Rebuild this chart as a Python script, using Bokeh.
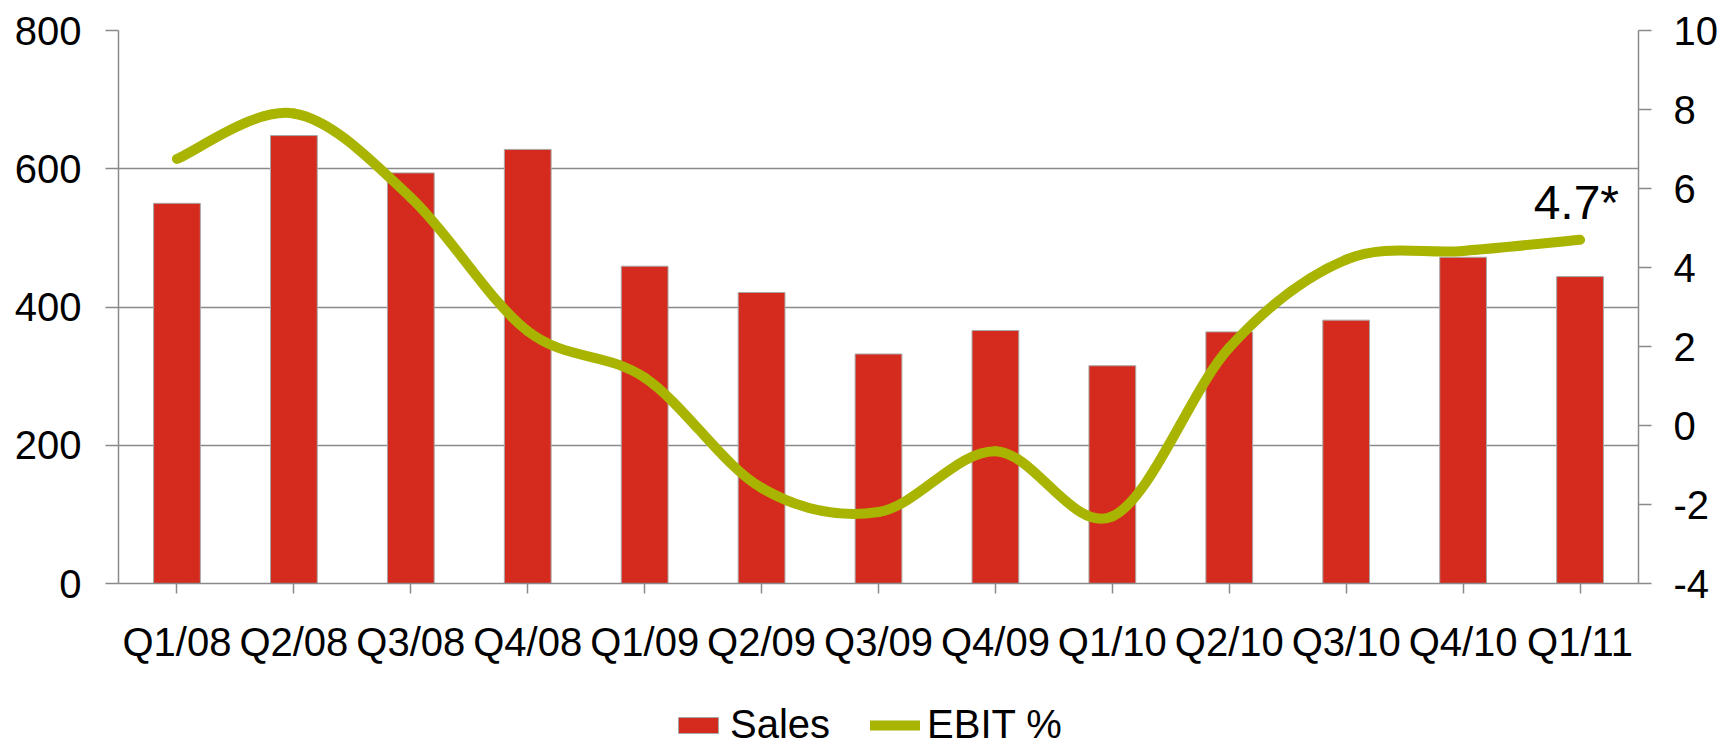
from bokeh.plotting import figure
from bokeh.layouts import column
from bokeh.models import (Range1d, LinearAxis, FixedTicker, Legend, LegendItem,
                          Label, ColumnDataSource)
from bokeh.embed import file_html
from bokeh.resources import INLINE

# Quarterly sales (left axis) and EBIT margin in % (right axis)
quarters = ["Q1/08", "Q2/08", "Q3/08", "Q4/08", "Q1/09", "Q2/09", "Q3/09",
            "Q4/09", "Q1/10", "Q2/10", "Q3/10", "Q4/10", "Q1/11"]
sales = [550, 648, 594, 628, 459, 421, 332, 366, 315, 364, 381, 472, 444]
ebit_pct = [6.75, 7.9, 5.77, 2.39, 1.21, -1.58, -2.19, -0.65, -2.3, 1.97, 4.2, 4.42, 4.7]

sales_ticks = [0, 200, 400, 600, 800]
ebit_ticks = [-4, -2, 0, 2, 4, 6, 8, 10]

BAR_RED = "#D52B1E"
EBIT_GREEN = "#A8B400"
AXIS_GREY = "#8a8a8a"
FONT = "Liberation Sans"

W = 1736
CHART_H = 667
LEGEND_H = 80

n = len(quarters)
xs = [i + 0.5 for i in range(n)]

bar_style = dict(fill_color=BAR_RED, line_color="#a8a8a8", line_width=1)
line_style = dict(line_color=EBIT_GREEN, line_width=10, line_cap="round")

p = figure(width=W, height=CHART_H, output_backend="svg", toolbar_location=None,
           x_range=Range1d(0, n), y_range=Range1d(sales_ticks[0], sales_ticks[-1]),
           min_border_left=118, min_border_right=98, min_border_top=30,
           min_border_bottom=84, background_fill_color="white",
           border_fill_color="white")
p.outline_line_color = None
p.extra_y_ranges = {"ebit": Range1d(ebit_ticks[0], ebit_ticks[-1])}

# Bars
bar_src = ColumnDataSource(dict(x=xs, sales=sales))
p.vbar(x="x", top="sales", bottom=0, width=0.4, source=bar_src, **bar_style)

# Smoothed EBIT line: cubic Bezier segments through each quarter's value
def clamp(i):
    return max(0, min(n - 1, i))

x0s, y0s, x1s, y1s, cx0s, cy0s, cx1s, cy1s = [], [], [], [], [], [], [], []
for i in range(n - 1):
    a, b = clamp(i - 1), clamp(i + 2)
    x0s.append(xs[i]); y0s.append(ebit_pct[i])
    x1s.append(xs[i + 1]); y1s.append(ebit_pct[i + 1])
    cx0s.append(xs[i] + (xs[i + 1] - xs[a]) / 6)
    cy0s.append(ebit_pct[i] + (ebit_pct[i + 1] - ebit_pct[a]) / 6)
    cx1s.append(xs[i + 1] - (xs[b] - xs[i]) / 6)
    cy1s.append(ebit_pct[i + 1] - (ebit_pct[b] - ebit_pct[i]) / 6)

curve_src = ColumnDataSource(dict(x0=x0s, y0=y0s, x1=x1s, y1=y1s,
                                  cx0=cx0s, cy0=cy0s, cx1=cx1s, cy1=cy1s))
p.bezier(x0="x0", y0="y0", x1="x1", y1="y1", cx0="cx0", cy0="cy0",
         cx1="cx1", cy1="cy1", source=curve_src, y_range_name="ebit", **line_style)

# Axes
p.xaxis.ticker = FixedTicker(ticks=xs)
p.xaxis.major_label_overrides = {x: q for x, q in zip(xs, quarters)}
p.yaxis.ticker = FixedTicker(ticks=sales_ticks)

right = LinearAxis(y_range_name="ebit", ticker=FixedTicker(ticks=ebit_ticks))
right.major_label_overrides = {t: str(t) for t in ebit_ticks}
p.add_layout(right, "right")

for ax in p.axis:
    ax.axis_line_color = AXIS_GREY
    ax.axis_line_width = 1.5
    ax.major_tick_line_color = AXIS_GREY
    ax.major_tick_line_width = 1.5
    ax.major_tick_in = 0
    ax.minor_tick_line_color = None
    ax.major_label_text_font = FONT
    ax.major_label_text_font_size = "40px"
    ax.major_label_text_color = "black"

p.xaxis.major_tick_out = 10
p.xaxis.major_label_standoff = 26
p.yaxis[0].major_tick_out = 13
p.yaxis[0].major_label_standoff = 24
right.major_tick_out = 13
right.major_label_standoff = 22

p.xgrid.grid_line_color = None
p.ygrid.ticker = FixedTicker(ticks=sales_ticks)
p.ygrid.grid_line_color = AXIS_GREY
p.ygrid.grid_line_width = 1.5

# Last quarter's margin called out above the line end
p.add_layout(Label(x=xs[-1], y=ebit_pct[-1], y_range_name="ebit",
                   text=f"{ebit_pct[-1]}*", x_offset=39, y_offset=37,
                   text_align="right", text_baseline="alphabetic",
                   text_font=FONT, text_font_size="48px", text_color="black"))

# Legend strip underneath the chart. Its key renderers hold one point each,
# placed outside the strip's visible range, so only the legend keys show.
leg = figure(width=W, height=LEGEND_H, output_backend="svg", toolbar_location=None,
             x_range=Range1d(0, W), y_range=Range1d(0, LEGEND_H),
             x_axis_location=None, y_axis_location=None,
             min_border=0, background_fill_color="white", border_fill_color="white")
leg.outline_line_color = None
leg.grid.grid_line_color = None
key_bar = leg.vbar(x=[-500], top=[-400], bottom=[-450], width=10, **bar_style)
key_line = leg.bezier(x0=[-500], y0=[-400], x1=[-450], y1=[-400],
                      cx0=[-480], cy0=[-400], cx1=[-470], cy1=[-400], **line_style)

legend = Legend(items=[LegendItem(label="Sales", renderers=[key_bar]),
                       LegendItem(label="EBIT %", renderers=[key_line])],
                location=(555, 0), orientation="horizontal",
                glyph_width=50, glyph_height=20, label_standoff=7, spacing=40,
                label_text_font=FONT, label_text_font_size="40px",
                label_text_color="black", padding=0, margin=0,
                border_line_color=None, background_fill_alpha=0)
leg.add_layout(legend, "center")

layout = column(p, leg, spacing=0)
open("out.html", "w").write(file_html(layout, INLINE))
